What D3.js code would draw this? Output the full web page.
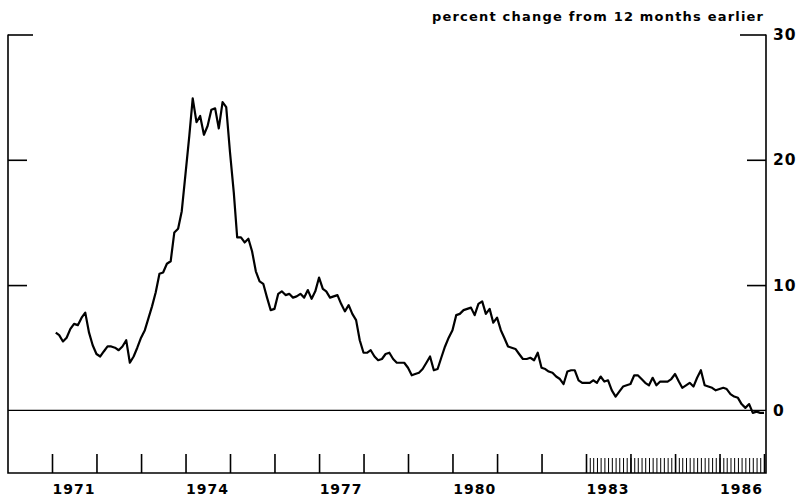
<!DOCTYPE html>
<html><head><meta charset="utf-8">
<script src="https://cdn.jsdelivr.net/npm/d3@7"></script>
<style>html,body{margin:0;padding:0;background:#fff;} svg{display:block;}</style>
</head><body><svg id="c" width="798" height="496"></svg>
<script>
const title = "percent change from 12 months earlier";
const yearLabels = [1971, 1974, 1977, 1980, 1983, 1986];
const yTickValues = [0, 10, 20, 30];
const firstYear = 1971;
// monthly values, Jan 1971 .. Dec 1986 (one row per year)
const monthlyChange = [
  6.2, 6.0, 5.5, 5.8, 6.5, 6.9, 6.8, 7.4, 7.8, 6.2, 5.2, 4.5,
  4.3, 4.7, 5.1, 5.1, 5.0, 4.8, 5.1, 5.6, 3.8, 4.3, 5.0, 5.8,
  6.4, 7.3, 8.3, 9.4, 10.9, 11.0, 11.7, 11.9, 14.2, 14.5, 15.9, 18.9,
  21.9, 24.9, 23.0, 23.5, 22.0, 22.7, 24.0, 24.1, 22.5, 24.6, 24.2, 20.6,
  17.4, 13.8, 13.8, 13.4, 13.7, 12.7, 11.1, 10.3, 10.1, 9.0, 8.0, 8.1,
  9.3, 9.5, 9.2, 9.3, 9.0, 9.1, 9.3, 9.0, 9.6, 8.9, 9.5, 10.6,
  9.7, 9.5, 9.0, 9.1, 9.2, 8.5, 7.9, 8.4, 7.7, 7.2, 5.6, 4.6,
  4.6, 4.8, 4.3, 4.0, 4.1, 4.5, 4.6, 4.1, 3.8, 3.8, 3.8, 3.4,
  2.8, 2.9, 3.0, 3.3, 3.8, 4.3, 3.2, 3.3, 4.2, 5.1, 5.8, 6.4,
  7.6, 7.7, 8.0, 8.1, 8.2, 7.6, 8.5, 8.7, 7.7, 8.1, 7.0, 7.4,
  6.4, 5.8, 5.1, 5.0, 4.9, 4.5, 4.1, 4.1, 4.2, 4.0, 4.6, 3.4,
  3.3, 3.1, 3.0, 2.7, 2.5, 2.1, 3.1, 3.2, 3.2, 2.4, 2.2, 2.2,
  2.2, 2.4, 2.2, 2.7, 2.3, 2.4, 1.6, 1.1, 1.5, 1.9, 2.0, 2.1,
  2.8, 2.8, 2.5, 2.2, 2.0, 2.6, 2.0, 2.3, 2.3, 2.3, 2.5, 2.9,
  2.3, 1.8, 2.0, 2.2, 1.9, 2.6, 3.2, 2.0, 1.9, 1.8, 1.6, 1.7,
  1.8, 1.7, 1.3, 1.1, 1.0, 0.5, 0.2, 0.5, -0.2, -0.1, -0.2, -0.2
];

const svg = d3.select('#c');
const start = new Date(firstYear, 0, 1);
const end = new Date(1987, 0, 1);
const x = d3.scaleTime().domain([start, end]).range([52, 764]);
const y = d3.scaleLinear().domain([-5, 30]).range([473, 34.5]);
const L = 8, R = 766;
const font = "'DejaVu Sans', sans-serif";

const data = monthlyChange.map((v, i) => ({date: d3.timeMonth.offset(start, i + 1), v}));

// frame
svg.append('path')
  .attr('d', `M${L},${y(30)}V${y(-5)}H${R}V${y(30)}`)
  .attr('fill', 'none').attr('stroke', '#000').attr('stroke-width', 1.6);

// left axis ticks (pointing inward)
const leftAx = svg.append('g').attr('transform', `translate(${L},0)`)
  .call(d3.axisRight(y).tickValues(yTickValues.filter(d => d > 0)).tickSize(19).tickFormat(''));
leftAx.select('.domain').remove();
leftAx.selectAll('.tick line').attr('x2', d => d === 30 ? 25 : 19).attr('stroke-width', 1.6);

// right axis ticks (pointing inward) + labels
const rightAx = svg.append('g').attr('transform', `translate(${R},0)`)
  .call(d3.axisRight(y).tickValues(yTickValues).tickSizeInner(-19).tickSizeOuter(0).tickPadding(7));
rightAx.select('.domain').remove();
rightAx.selectAll('.tick line').attr('x2', d => d === 30 ? -26 : (d === 0 ? 0 : -19)).attr('stroke-width', 1.6);
rightAx.selectAll('.tick text')
  .attr('font-family', font).attr('font-weight', 'bold').attr('font-size', 15.5)
  .attr('fill', '#000').attr('letter-spacing', 1);

// zero line
svg.append('line').attr('x1', L).attr('x2', R).attr('y1', y(0)).attr('y2', y(0))
  .attr('stroke', '#000').attr('stroke-width', 1.2);

// year ticks
const yearAx = svg.append('g').attr('transform', `translate(0,${y(-5)})`)
  .call(d3.axisTop(x).tickValues(d3.timeYear.range(start, d3.timeDay.offset(end, 1))).tickSize(19).tickFormat(''));
yearAx.select('.domain').remove();
yearAx.selectAll('.tick line').attr('stroke-width', 1.6);

// monthly ticks 1983-1986
const monthAx = svg.append('g').attr('transform', `translate(0,${y(-5)})`)
  .call(d3.axisTop(x).tickValues(d3.timeMonth.range(new Date(1983, 0, 1), end)).tickSize(15).tickFormat(''));
monthAx.select('.domain').remove();
monthAx.selectAll('.tick line').attr('stroke-width', 1);

// year labels
svg.append('g').selectAll('text').data(yearLabels).join('text')
  .attr('x', d => x(new Date(d, 6, 1)))
  .attr('y', 494)
  .attr('text-anchor', 'middle')
  .attr('font-family', font).attr('font-weight', 'bold').attr('font-size', 14)
  .attr('letter-spacing', 1)
  .text(d => d);

// title
svg.append('text')
  .attr('x', 763).attr('y', 20.5)
  .attr('text-anchor', 'end')
  .attr('font-family', font).attr('font-weight', 'bold').attr('font-size', 13)
  .attr('textLength', 331).attr('lengthAdjust', 'spacing')
  .text(title);

// series
svg.append('path').datum(data)
  .attr('d', d3.line().x(d => x(d.date)).y(d => y(d.v)))
  .attr('fill', 'none').attr('stroke', '#000').attr('stroke-width', 2.2)
  .attr('stroke-linejoin', 'round');
</script>
</body></html>
